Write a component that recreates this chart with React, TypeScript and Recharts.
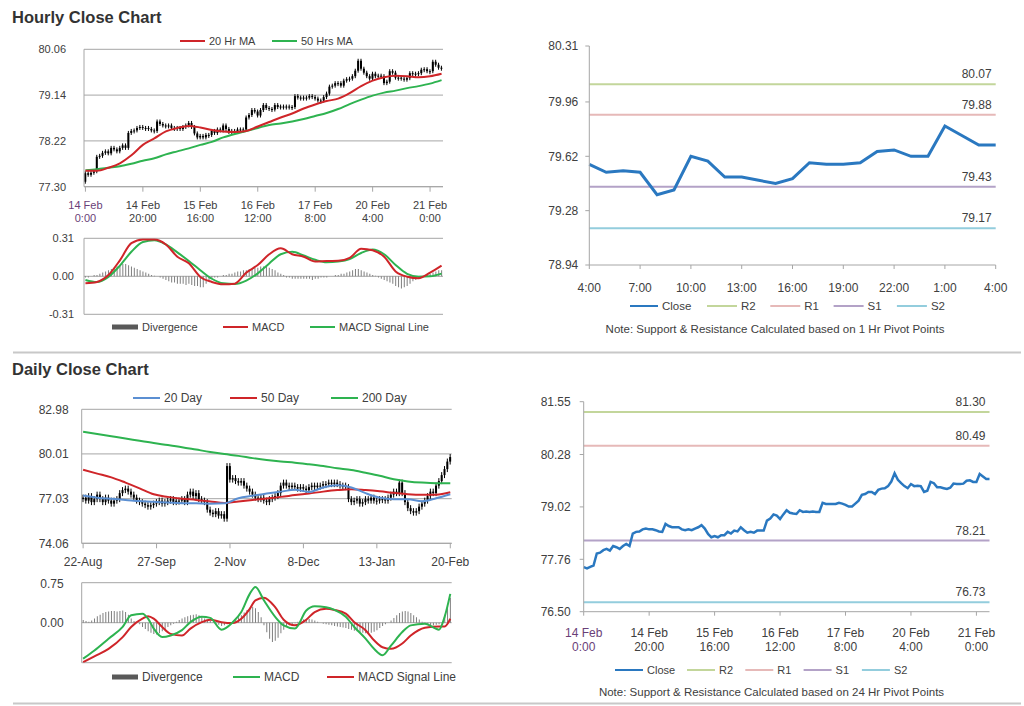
import React from 'react';
import { ComposedChart, LineChart, Line, Bar, XAxis, YAxis, CartesianGrid, ReferenceLine } from 'recharts';

const FONT = '"Liberation Sans", Arial, Helvetica, sans-serif';
const TXT = '#404040';
const FIRST = '#6a3f78';
const AXIS = '#a6a6a6';
const RED = '#cf2529';
const GREEN = '#2eb350';
const BLUE = '#2a78c0';
const STEEL = '#5b8fd2';
const DIV = '#7f7f7f';

// ---------------- tick labels ----------------
const hourlyTickDates = ['14 Feb', '14 Feb', '15 Feb', '16 Feb', '17 Feb', '20 Feb', '21 Feb'];
const hourlyTickTimes = ['0:00', '20:00', '16:00', '12:00', '8:00', '4:00', '0:00'];
const lastDayTickTimes = ['4:00', '7:00', '10:00', '13:00', '16:00', '19:00', '22:00', '1:00', '4:00'];
const dailyTickLabels = ['22-Aug', '27-Sep', '2-Nov', '8-Dec', '13-Jan', '20-Feb'];

const hourlyPriceTicks = [77.3, 78.22, 79.14, 80.06];
const hourlyMacdTicks = [-0.31, 0, 0.31];
const lastDayTicks = [78.94, 79.28, 79.62, 79.96, 80.31];
const weekTicks = [76.5, 77.76, 79.02, 80.28, 81.55];
const dailyPriceTicks = [74.06, 77.03, 80.01, 82.98];
const dailyMacdTicks = [-0.75, 0, 0.75];

// ---------------- hourly series (14 Feb 0:00 .. 21 Feb 4:00) ----------------
const hourlyFirstOpen = 77.4;
const hourlyClose = [
  77.57, 77.54, 77.58, 77.61, 77.9, 77.92, 77.98, 78.01, 77.97, 78.08, 78.05, 78.01, 78.08, 78.13, 78.08,
  78.38, 78.42, 78.43, 78.48, 78.5, 78.48, 78.48, 78.46, 78.43, 78.42, 78.61, 78.56, 78.53, 78.53, 78.53,
  78.48, 78.46, 78.48, 78.46, 78.5, 78.53, 78.58, 78.5, 78.37, 78.29, 78.32, 78.29, 78.34, 78.34, 78.42,
  78.38, 78.45, 78.43, 78.53, 78.46, 78.4, 78.42, 78.4, 78.45, 78.45, 78.45, 78.69, 78.74, 78.84, 78.81,
  78.73, 78.84, 78.94, 78.88, 78.86, 78.85, 78.94, 78.9, 78.91, 78.9, 78.91, 78.9, 78.9, 79.12, 79.09,
  79.09, 79.09, 79.09, 79.12, 79.1, 79.07, 79.03, 79.03, 79.1, 79.17, 79.31, 79.33, 79.38, 79.38, 79.33,
  79.43, 79.46, 79.47, 79.52, 79.63, 79.83, 79.67, 79.59, 79.52, 79.47,
  79.57, 79.52, 79.53, 79.52, 79.38, 79.41, 79.62, 79.59, 79.49, 79.49, 79.47, 79.45, 79.48, 79.58, 79.57,
  79.57, 79.58, 79.65, 79.66, 79.62, 79.62, 79.81, 79.75, 79.69, 79.69,
];
// sampled every 4th hourly bar
const hourlyMa20 = [
  77.62, 77.62, 77.68, 77.77, 77.93, 78.14, 78.27, 78.41, 78.48, 78.52, 78.49, 78.44, 78.41, 78.4, 78.42, 78.51,
  78.6, 78.69, 78.77, 78.87, 78.95, 79.02, 79.07, 79.18, 79.32, 79.43, 79.5, 79.53, 79.52, 79.5, 79.52, 79.57,
];
const hourlyMa50 = [
  77.63, 77.65, 77.68, 77.71, 77.76, 77.82, 77.87, 77.95, 78.01, 78.07, 78.14, 78.2, 78.29, 78.36, 78.42, 78.48,
  78.54, 78.57, 78.61, 78.66, 78.72, 78.78, 78.86, 78.96, 79.05, 79.13, 79.19, 79.23, 79.28, 79.32, 79.37, 79.44,
];
const hourlyMacd = [
  -0.057, -0.046, 0.01, 0.13, 0.27, 0.3, 0.3, 0.26, 0.16, 0.106, -0.005, -0.046, -0.065, -0.06, 0.03, 0.092,
  0.18, 0.228, 0.18, 0.16, 0.12, 0.125, 0.126, 0.15, 0.225, 0.212, 0.16, 0.04, -0.003, -0.015, 0.03, 0.087,
];
const hourlySignal = [
  -0.03, -0.047, -0.005, 0.087, 0.2, 0.28, 0.294, 0.26, 0.195, 0.125, 0.05, -0.02, -0.057, -0.063, -0.035, 0.024,
  0.105, 0.18, 0.2, 0.17, 0.135, 0.114, 0.12, 0.14, 0.19, 0.218, 0.18, 0.092, 0.02, -0.003, 0.0, 0.022,
];
const hourlyDivergence = [
  -0.01, -0.01, 0, 0.01, 0.01,
  0.02, 0.03, 0.04, 0.05, 0.06, 0.07, 0.08, 0.09,
  0.1, 0.1, 0.09, 0.08, 0.07, 0.06, 0.05, 0.04,
  0.03, 0.02, 0.01, 0.005, 0, -0.01,
  -0.02, -0.03, -0.04, -0.05, -0.05, -0.06, -0.06, -0.06, -0.07, -0.06, -0.07, -0.08, -0.08, -0.09, -0.09, -0.06,
  -0.03, -0.02, -0.01, -0.01, 0, 0.01, 0.01,
  0.02, 0.02,
  0.03, 0.04, 0.04, 0.05, 0.05, 0.06, 0.06, 0.07, 0.07, 0.08, 0.08, 0.08, 0.07, 0.06, 0.05, 0.03, 0.02, 0.01,
  -0.01, -0.01, -0.02, -0.02, -0.02, -0.02, -0.02, -0.02, -0.02, -0.03, -0.02, -0.02, -0.01, -0.01, -0.01, 0, 0,
  0.01, 0.01, 0.02, 0.02, 0.03, 0.04, 0.05, 0.06, 0.06, 0.05, 0.04, 0.03, 0.02, 0.01, 0.005,
  -0.01, -0.02, -0.03, -0.04, -0.05, -0.06, -0.08, -0.09, -0.1, -0.09, -0.08, -0.06, -0.04, -0.03, -0.02, -0.01,
  0, 0.01, 0.02, 0.03, 0.04, 0.05, 0.05,
];

// ---------------- pivot levels ----------------
const pivotNames = ['R2', 'R1', 'S1', 'S2'];
const hourlyPivots = [80.07, 79.88, 79.43, 79.17];
const dailyPivots = [81.3, 80.49, 78.21, 76.73];
const pivotColors = ['#c3d69b', '#e6b9b8', '#b3a2c7', '#93cddd'];

// ---------------- daily series (22 Aug .. 20 Feb) ----------------
const dailyFirstOpen = 77.0;
const dailyClose = [
  77.1, 76.9, 77.2, 76.8, 77.0, 77.3,
  77.0, 76.8, 77.1, 76.9, 76.7, 76.9, 77.0,
  77.4, 77.6, 77.7, 77.5, 77.3,
  77.1, 76.9, 76.8, 76.7, 76.6, 76.5, 76.6, 76.7,
  76.8, 76.9, 76.7, 76.8, 76.9, 77.0, 76.8, 76.9,
  76.9, 77.0, 76.8,
  77.3, 77.5, 77.2, 77.4,
  77.0, 76.9, 76.8,
  76.3, 76.1, 76.0, 76.2, 75.9, 76.0,
  75.7,
  79.2,
  78.3, 78.4, 78.2, 78.1, 78.2, 77.9,
  77.7, 77.5, 77.3, 77.1, 77.0,
  77.1, 76.9, 76.8, 77.0, 77.1,
  77.2, 77.4,
  77.9, 78.1,
  77.9, 77.8, 77.9, 77.8, 77.7, 77.8,
  77.7, 77.6, 77.8, 77.9, 77.8, 77.9, 77.9,
  78.0, 78.0, 78.1, 78.0, 78.1, 78.0, 77.9, 77.9, 77.8,
  77.0, 76.8, 76.9, 77.0, 76.7, 76.8, 77.0, 76.9, 77.1, 76.9,
  76.9, 77.0, 77.0, 76.9, 77.1, 77.3, 77.5,
  77.4, 78.1, 77.4,
  76.8, 76.4, 76.2, 76.1, 76.2,
  76.5, 76.7, 76.9,
  77.2, 77.5, 77.4,
  77.9, 78.2,
  78.6, 79.0, 79.5, 79.8,
];
// sampled every 5th daily bar
const dailyMa20 = [
  77.24, 77.1, 77.02, 76.95, 76.87, 76.82, 76.78, 76.73, 76.72, 76.7, 76.72, 77.06, 77.22, 77.38,
  77.5, 77.62, 77.48, 77.78, 77.92, 77.78, 77.4, 77.1, 77.0, 77.0, 76.86, 77.06, 77.33,
];
const dailyMa50 = [
  78.95, 78.7, 78.45, 78.1, 77.72, 77.32, 77.15, 77.03, 76.95, 76.85, 76.75, 76.85, 76.95, 77.05,
  77.15, 77.27, 77.38, 77.5, 77.6, 77.66, 77.6, 77.52, 77.42, 77.33, 77.29, 77.3, 77.46,
];
const dailyMa200 = [
  81.49, 81.34, 81.19, 81.04, 80.88, 80.73, 80.6, 80.46, 80.3, 80.14, 80.0, 79.88, 79.73, 79.6,
  79.5, 79.43, 79.32, 79.2, 79.06, 78.94, 78.75, 78.55, 78.32, 78.18, 78.1, 78.06, 78.06,
];
const dailyMacdIdx = [
  0, 4, 9, 14, 17, 21, 23, 25, 28, 31, 35, 38, 42, 45, 49, 53, 56, 59, 61, 64,
  68, 71, 75, 79, 82, 86, 89, 93, 96, 100, 103, 106, 109, 113, 116, 121, 126, 128, 130,
];
const dailyMacd = [
  -0.675, -0.52, -0.3, -0.08, 0.14, 0.17, 0.075, -0.11, -0.27, -0.24, -0.14, 0.01, 0.11, 0.09, -0.13, 0.01, 0.2, 0.54, 0.67, 0.42,
  0.11, -0.05, -0.11, 0.23, 0.31, 0.29, 0.24, 0.11, -0.08, -0.3, -0.49, -0.61, -0.43, -0.175, -0.05, -0.02, -0.13, 0.11, 0.54,
];
const dailySignal = [
  -0.74, -0.63, -0.49, -0.27, -0.08, 0.075, 0.12, 0.075, -0.08, -0.21, -0.24, -0.11, 0.01, 0.056, 0.01, -0.006, 0.075, 0.26, 0.42, 0.47,
  0.29, 0.056, -0.05, 0.056, 0.2, 0.26, 0.24, 0.17, 0.01, -0.14, -0.33, -0.46, -0.49, -0.39, -0.24, -0.094, -0.07, -0.07, 0.075,
];
const dailyDivergence = [
  0.05, 0.03, 0.02, 0.04, 0.08, 0.12, 0.15, 0.18,
  0.2, 0.21, 0.22, 0.22, 0.21, 0.22, 0.23, 0.2, 0.15, 0.08,
  0.03, 0.0, -0.03, -0.08,
  -0.12, -0.16, -0.19, -0.21, -0.22, -0.2, -0.16, -0.12, -0.08, -0.05,
  -0.02, 0.02, 0.05, 0.08, 0.1, 0.12, 0.14, 0.15, 0.16, 0.14, 0.11, 0.08, 0.05, 0.03, 0.01,
  -0.02, -0.04, -0.06, -0.05, -0.03, 0.0, 0.03,
  0.06, 0.1, 0.14, 0.19, 0.24, 0.28, 0.3, 0.27, 0.2, 0.1,
  -0.05, -0.18, -0.3, -0.36, -0.34, -0.28, -0.2, -0.13, -0.08, -0.05, -0.03, -0.01,
  0.02, 0.04, 0.06, 0.07, 0.07, 0.06, 0.04, 0.02, 0.0,
  -0.02, -0.03, -0.04, -0.05, -0.06, -0.07, -0.08, -0.09, -0.1, -0.12, -0.13, -0.15, -0.16, -0.18, -0.19, -0.2, -0.2, -0.19, -0.17, -0.14, -0.1, -0.06, -0.03, 0.0,
  0.04, 0.09, 0.14, 0.18, 0.21, 0.22, 0.21, 0.18, 0.14, 0.1, 0.06, 0.02,
  -0.02, -0.04, -0.05, -0.05, -0.04, -0.03, -0.01,
  0.15, 0.32, 0.47,
];

// ---------------- table rows built from the arrays ----------------
const hourlyRows = hourlyClose.map((c, i) => {
  const o = i === 0 ? hourlyFirstOpen : hourlyClose[i - 1];
  const s = i % 4 === 0 ? i / 4 : -1;
  return {
    i,
    c,
    body: [Math.min(o, c), Math.max(o, c)],
    ma20: s >= 0 ? hourlyMa20[s] : null,
    ma50: s >= 0 ? hourlyMa50[s] : null,
    macd: s >= 0 ? hourlyMacd[s] : null,
    signal: s >= 0 ? hourlySignal[s] : null,
    div: hourlyDivergence[i],
  };
});
const lastDayRows = hourlyClose.slice(100).map((c, k) => ({ k, c }));

const dailyRows = dailyClose.map((c, i) => {
  const o = i === 0 ? dailyFirstOpen : dailyClose[i - 1];
  const s = i % 5 === 0 ? i / 5 : -1;
  const m = dailyMacdIdx.indexOf(i);
  return {
    i,
    c,
    body: [Math.min(o, c), Math.max(o, c)],
    ma20: s >= 0 ? dailyMa20[s] : null,
    ma50: s >= 0 ? dailyMa50[s] : null,
    ma200: s >= 0 ? dailyMa200[s] : null,
    macd: m >= 0 ? dailyMacd[m] : null,
    signal: m >= 0 ? dailySignal[m] : null,
    div: dailyDivergence[i],
  };
});

// ---------------- helpers ----------------
const fmt2 = (v: number) => Number(v).toFixed(2);

function Candle(props: any) {
  const { x, y, width, height, wick } = props;
  if (x == null || y == null || isNaN(y)) return <g />;
  const hh = height || 0;
  const top = Math.min(y, y + hh);
  const h = Math.max(Math.abs(hh), 1);
  const cx = x + width / 2;
  return (
    <g>
      <line x1={cx} x2={cx} y1={top - wick} y2={top + h + wick} stroke="#000" strokeWidth={1} />
      <rect x={cx - 1} y={top} width={2} height={h} fill="#000" />
    </g>
  );
}

function twoLineTick(dates: string[], times: string[], every: number, fs: number, d1: number, d2: number) {
  return (props: any) => {
    const { x, y, payload } = props;
    const v = Number(payload.value);
    const k = Math.round(v / every);
    if (k * every !== v || dates[k] == null) return <g />;
    return (
      <text textAnchor="middle" fill={k === 0 ? FIRST : TXT} fontSize={fs} fontFamily={FONT}>
        <tspan x={x} y={y + d1}>{dates[k]}</tspan>
        <tspan x={x} y={y + d2}>{times[k]}</tspan>
      </text>
    );
  };
}

function oneLineTick(labels: string[], every: number, fs: number, d: number) {
  return (props: any) => {
    const { x, y, payload } = props;
    const v = Number(payload.value);
    const k = Math.round(v / every);
    if (k * every !== v || labels[k] == null) return <g />;
    return (
      <text x={x} y={y + d} textAnchor="middle" fill={TXT} fontSize={fs} fontFamily={FONT}>
        {labels[k]}
      </text>
    );
  };
}

function PivotLabel(props: any) {
  const { viewBox, text, fs } = props;
  if (!viewBox) return null;
  return (
    <text x={viewBox.x + viewBox.width - 4} y={viewBox.y - 6} textAnchor="end" fill={TXT} fontSize={fs} fontFamily={FONT}>
      {text}
    </text>
  );
}

const yTick = (fs: number) => ({ fill: TXT, fontSize: fs, fontFamily: FONT });

function LegendLine({ x, y, w, color, label, fs, block }: any) {
  return (
    <g>
      <rect x={x} y={block ? y - 2.5 : y - 1} width={w} height={block ? 5 : 2} fill={color} />
      <text x={x + w + 4} y={y + fs * 0.36} fill={TXT} fontSize={fs} fontFamily={FONT}>
        {label}
      </text>
    </g>
  );
}

const abs = (left: number, top: number): React.CSSProperties => ({ position: 'absolute', left, top });

export default function App() {
  return (
    <div style={{ position: 'absolute', left: 0, top: 0, width: 1024, height: 706, background: '#fff', overflow: 'hidden' }}>
      {/* static text, legends, separators */}
      <svg width={1024} height={706} style={{ position: 'absolute', left: 0, top: 0 }}>
        <text x={12} y={22.5} fontSize={16.5} fontWeight="bold" fill="#333" fontFamily={FONT}>Hourly Close Chart</text>
        <text x={12} y={375} fontSize={16.5} fontWeight="bold" fill="#333" fontFamily={FONT}>Daily Close Chart</text>
        <line x1={13} x2={1021} y1={352.5} y2={352.5} stroke="#c8c8c8" strokeWidth={2} />
        <line x1={13} x2={1021} y1={703.5} y2={703.5} stroke="#c8c8c8" strokeWidth={2} />

        <LegendLine x={180} y={41} w={25} color={RED} label="20 Hr MA" fs={11} />
        <LegendLine x={272} y={41} w={25} color={GREEN} label="50 Hrs MA" fs={11} />

        <LegendLine x={112} y={327} w={26} color="#595959" label="Divergence" fs={11} block />
        <LegendLine x={223} y={327} w={25} color={RED} label="MACD" fs={11} />
        <LegendLine x={310} y={327} w={25} color={GREEN} label="MACD Signal Line" fs={11} />

        <LegendLine x={630} y={306} w={28} color={BLUE} label="Close" fs={11.5} />
        {pivotNames.map((n, j) => (
          <LegendLine key={n} x={707 + j * 63.3} y={306} w={30} color={pivotColors[j]} label={n} fs={11.5} />
        ))}
        <text x={775} y={333} textAnchor="middle" fill={TXT} fontSize={11.5} fontFamily={FONT}>
          Note: Support &amp; Resistance Calculated based on 1 Hr Pivot Points
        </text>

        <LegendLine x={133} y={398} w={27} color={STEEL} label="20 Day" fs={12} />
        <LegendLine x={230} y={398} w={27} color={RED} label="50 Day" fs={12} />
        <LegendLine x={331} y={398} w={27} color={GREEN} label="200 Day" fs={12} />

        <LegendLine x={112} y={677} w={26} color="#595959" label="Divergence" fs={12} block />
        <LegendLine x={233} y={677} w={27} color={GREEN} label="MACD" fs={12} />
        <LegendLine x={327} y={677} w={27} color={RED} label="MACD Signal Line" fs={12} />

        <LegendLine x={615} y={670} w={28} color={BLUE} label="Close" fs={11} />
        {pivotNames.map((n, j) => (
          <LegendLine key={n} x={687 + j * 58.3} y={670} w={28} color={pivotColors[j]} label={n} fs={11} />
        ))}
        <text x={771.5} y={696} textAnchor="middle" fill={TXT} fontSize={11.5} fontFamily={FONT}>
          Note: Support &amp; Resistance Calculated based on 24 Hr Pivot Points
        </text>
      </svg>

      {/* Hourly candles + MAs */}
      <div style={abs(0, 40)}>
        <ComposedChart width={460} height={190} data={hourlyRows} margin={{ top: 9.3, right: 17, bottom: 7.3, left: 0 }}>
          <CartesianGrid vertical={false} stroke={AXIS} />
          <XAxis dataKey="i" interval={19} height={36} tickSize={5} tickMargin={0}
            axisLine={{ stroke: AXIS }} tickLine={{ stroke: AXIS }}
            tick={twoLineTick(hourlyTickDates, hourlyTickTimes, 20, 11, 17.5, 30.5)} />
          <YAxis width={84} domain={[77.3, 80.06]} ticks={hourlyPriceTicks} allowDataOverflow
            tickFormatter={fmt2} tick={yTick(11)} tickLine={false} tickSize={0} tickMargin={18} axisLine={{ stroke: AXIS }} />
          <Bar dataKey={(d: any) => d.body} shape={(p: any) => <Candle {...p} wick={2} />} isAnimationActive={false} />
          <Line dataKey="ma50" stroke={GREEN} strokeWidth={2} dot={false} connectNulls type="monotone" isAnimationActive={false} />
          <Line dataKey="ma20" stroke={RED} strokeWidth={2} dot={false} connectNulls type="monotone" isAnimationActive={false} />
        </ComposedChart>
      </div>

      {/* Hourly MACD */}
      <div style={abs(0, 232)}>
        <ComposedChart width={460} height={90} data={hourlyRows} margin={{ top: 6.3, right: 17, bottom: 7.7, left: 0 }}>
          <CartesianGrid vertical={false} stroke={AXIS} />
          <XAxis dataKey="i" hide />
          <YAxis width={84} domain={[-0.31, 0.31]} ticks={hourlyMacdTicks} allowDataOverflow
            tickFormatter={fmt2} tick={yTick(11)} tickLine={false} tickSize={0} tickMargin={10} axisLine={{ stroke: AXIS }} />
          <Bar dataKey="div" fill={DIV} barSize={1} isAnimationActive={false} />
          <Line dataKey="signal" stroke={GREEN} strokeWidth={2} dot={false} connectNulls type="monotone" isAnimationActive={false} />
          <Line dataKey="macd" stroke={RED} strokeWidth={2} dot={false} connectNulls type="monotone" isAnimationActive={false} />
        </ComposedChart>
      </div>

      {/* Last 24 hours with 1 Hr pivots */}
      <div style={abs(520, 36)}>
        <LineChart width={504} height={260} data={lastDayRows} margin={{ top: 10, right: 28.3, bottom: 1, left: 0 }}>
          <XAxis dataKey="k" scale="point" interval={2} height={30} tickSize={4} tickMargin={0}
            axisLine={{ stroke: AXIS }} tickLine={{ stroke: AXIS }}
            tick={oneLineTick(lastDayTickTimes, 3, 12, 23)} />
          <YAxis width={69.3} domain={[78.94, 80.31]} ticks={lastDayTicks} allowDataOverflow
            tickFormatter={fmt2} tick={yTick(12)} tickSize={4} tickMargin={7}
            axisLine={{ stroke: AXIS }} tickLine={{ stroke: AXIS }} />
          {hourlyPivots.map((v, j) => (
            <ReferenceLine key={pivotNames[j]} y={v} stroke={pivotColors[j]} strokeWidth={2}
              label={<PivotLabel text={fmt2(v)} fs={12} />} />
          ))}
          <Line dataKey="c" stroke={BLUE} strokeWidth={3} dot={false} type="linear" isAnimationActive={false} />
        </LineChart>
      </div>

      {/* Daily candles + MAs */}
      <div style={abs(0, 400)}>
        <ComposedChart width={470} height={175} data={dailyRows} margin={{ top: 9.3, right: 18.3, bottom: 6.7, left: 0 }}>
          <CartesianGrid vertical={false} stroke={AXIS} />
          <XAxis dataKey="i" interval={25} height={25} tickSize={5} tickMargin={0}
            axisLine={{ stroke: AXIS }} tickLine={{ stroke: AXIS }}
            tick={oneLineTick(dailyTickLabels, 26, 12, 17.5)} />
          <YAxis width={81.7} domain={[74.06, 82.98]} ticks={dailyPriceTicks} allowDataOverflow
            tickFormatter={fmt2} tick={yTick(12)} tickLine={false} tickSize={0} tickMargin={13} axisLine={{ stroke: AXIS }} />
          <Bar dataKey={(d: any) => d.body} shape={(p: any) => <Candle {...p} wick={3} />} isAnimationActive={false} />
          <Line dataKey="ma200" stroke={GREEN} strokeWidth={2} dot={false} connectNulls type="monotone" isAnimationActive={false} />
          <Line dataKey="ma50" stroke={RED} strokeWidth={2} dot={false} connectNulls type="monotone" isAnimationActive={false} />
          <Line dataKey="ma20" stroke={STEEL} strokeWidth={2} dot={false} connectNulls type="monotone" isAnimationActive={false} />
        </ComposedChart>
      </div>

      {/* Daily MACD */}
      <div style={abs(0, 576)}>
        <ComposedChart width={470} height={94} data={dailyRows} margin={{ top: 6.7, right: 18.3, bottom: 7.3, left: 0 }}>
          <CartesianGrid vertical={false} stroke={AXIS} />
          <XAxis dataKey="i" hide />
          <YAxis width={81.7} domain={[-0.75, 0.75]} ticks={dailyMacdTicks} allowDataOverflow
            tickFormatter={fmt2} tick={yTick(12)} tickLine={false} tickSize={0} tickMargin={18} axisLine={{ stroke: AXIS }} />
          <Bar dataKey="div" fill={DIV} barSize={1} isAnimationActive={false} />
          <Line dataKey="signal" stroke={RED} strokeWidth={2} dot={false} connectNulls type="monotone" isAnimationActive={false} />
          <Line dataKey="macd" stroke={GREEN} strokeWidth={2} dot={false} connectNulls type="monotone" isAnimationActive={false} />
        </ComposedChart>
      </div>

      {/* Hourly close for the week with 24 Hr pivots */}
      <div style={abs(520, 390)}>
        <LineChart width={504} height={270} data={hourlyRows} margin={{ top: 11.7, right: 34.5, bottom: 3.3, left: 0 }}>
          <XAxis dataKey="i" scale="point" interval={19} height={45} tickSize={4} tickMargin={0}
            axisLine={{ stroke: AXIS }} tickLine={{ stroke: AXIS }}
            tick={twoLineTick(hourlyTickDates, hourlyTickTimes, 20, 12, 21.5, 35.5)} />
          <YAxis width={63.7} domain={[76.5, 81.55]} ticks={weekTicks} allowDataOverflow
            tickFormatter={fmt2} tick={yTick(12)} tickSize={4} tickMargin={9}
            axisLine={{ stroke: AXIS }} tickLine={{ stroke: AXIS }} />
          {dailyPivots.map((v, j) => (
            <ReferenceLine key={pivotNames[j]} y={v} stroke={pivotColors[j]} strokeWidth={2}
              label={<PivotLabel text={fmt2(v)} fs={12} />} />
          ))}
          <Line dataKey="c" stroke={BLUE} strokeWidth={2.5} dot={false} type="linear" isAnimationActive={false} />
        </LineChart>
      </div>
    </div>
  );
}
